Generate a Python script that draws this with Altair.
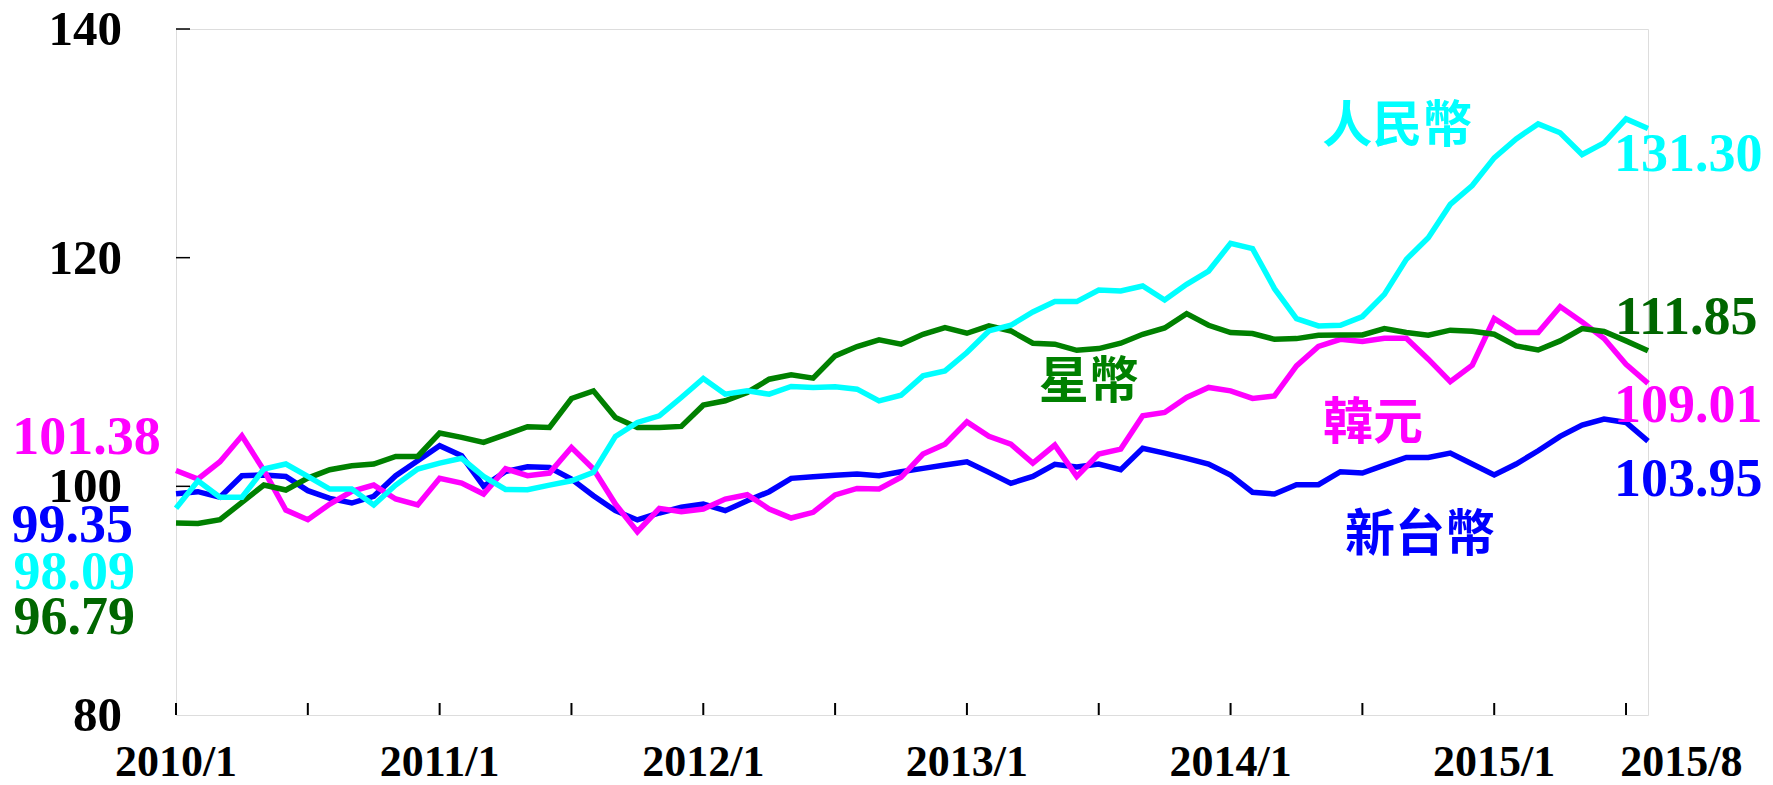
import altair as alt
import pandas as pd

# month index 0 = 2010/1 ... 67 = 2015/8
months = list(range(68))

twd = [99.35, 99.53, 99.04, 100.93, 100.99, 100.87, 99.62, 98.95, 98.54, 99.13,
       100.93, 102.24, 103.55, 102.67, 100.00, 101.30, 101.71, 101.65, 100.64, 99.18,
       97.87, 97.06, 97.67, 98.17, 98.45, 97.87, 98.74, 99.53, 100.70, 100.84,
       100.96, 101.07, 100.93, 101.28, 101.57, 101.86, 102.15, 101.22, 100.26, 100.87,
       101.92, 101.69, 101.95, 101.45, 103.32, 102.90, 102.45, 101.95, 100.99, 99.48,
       99.33, 100.14, 100.14, 101.28, 101.16, 101.86, 102.53, 102.53, 102.91, 101.95,
       100.99, 101.95, 103.11, 104.37, 105.35, 105.88, 105.59, 103.95]

cny = [98.09, 100.49, 99.04, 99.04, 101.51, 101.95, 100.87, 99.76, 99.76, 98.37,
       100.11, 101.51, 102.03, 102.45, 100.87, 99.73, 99.71, 100.11, 100.49, 101.22,
       104.37, 105.59, 106.17, 107.77, 109.43, 108.06, 108.35, 108.06, 108.73, 108.65,
       108.70, 108.50, 107.48, 107.97, 109.66, 110.10, 111.70, 113.59, 114.09, 115.25,
       116.16, 116.16, 117.17, 117.09, 117.52, 116.30, 117.67, 118.83, 121.25, 120.79,
       117.29, 114.67, 114.03, 114.09, 114.85, 116.79, 119.85, 121.75, 124.66, 126.31,
       128.73, 130.39, 131.70, 130.92, 129.02, 130.04, 132.14, 131.30]

sgd = [96.79, 96.76, 97.08, 98.60, 100.11, 99.68, 100.72, 101.45, 101.80, 101.95,
       102.62, 102.62, 104.66, 104.28, 103.84, 104.52, 105.21, 105.15, 107.68, 108.35,
       106.02, 105.15, 105.15, 105.24, 107.10, 107.48, 108.21, 109.37, 109.75, 109.46,
       111.41, 112.23, 112.81, 112.43, 113.30, 113.89, 113.39, 114.03, 113.59, 112.52,
       112.43, 111.90, 112.05, 112.52, 113.30, 113.85, 115.11, 114.09, 113.45, 113.36,
       112.86, 112.92, 113.21, 113.24, 113.24, 113.80, 113.45, 113.21, 113.66, 113.56,
       113.30, 112.28, 111.93, 112.72, 113.80, 113.54, 112.72, 111.85]

krw = [101.38, 100.64, 102.15, 104.42, 101.40, 97.93, 97.08, 98.45, 99.56, 100.11,
       98.89, 98.37, 100.70, 100.29, 99.33, 101.54, 100.93, 101.16, 103.40, 101.51,
       98.45, 96.03, 98.07, 97.78, 98.02, 98.89, 99.27, 98.02, 97.23, 97.73,
       99.25, 99.82, 99.77, 100.79, 102.82, 103.69, 105.64, 104.37, 103.69, 102.03,
       103.61, 100.87, 102.82, 103.26, 106.17, 106.46, 107.77, 108.65, 108.35, 107.69,
       107.91, 110.53, 112.23, 112.86, 112.66, 112.95, 112.95, 111.12, 109.15, 110.60,
       114.67, 113.45, 113.45, 115.72, 114.38, 112.93, 110.68, 109.01]

series_names = ["新台幣", "韓元", "星幣", "人民幣"]
series_values = [twd, krw, sgd, cny]
series_colors = ["#0000FF", "#FF00FF", "#008000", "#00FFFF"]

y_ticks = [80, 100, 120, 140]
y_tick_labels = ["80", "100", "120", "140"]
x_label_text = ["2010/1", "2011/1", "2012/1", "2013/1", "2014/1", "2015/1", "2015/8"]
x_label_pos = [0, 12, 24, 36, 48, 60, 68.52]
x_tick_months = list(range(0, 67, 6))

# annotations: text, colour, position in data units (month, value)
num_text = ["101.38", "99.35", "98.09", "96.79", "131.30", "111.85", "109.01", "103.95"]
num_color = ["#FF00FF", "#0000FF", "#00FFFF", "#006600", "#00FFFF", "#006600", "#FF00FF", "#0000FF"]
num_x = [-7.45, -7.49, -7.40, -7.40, 65.45, 65.50, 65.45, 65.45]
num_y = [102.82, 95.14, 91.03, 87.10, 127.54, 113.30, 105.62, 99.14]

cjk_text = ["人民幣", "星幣", "韓元", "新台幣"]
cjk_color = ["#00FFFF", "#008000", "#FF00FF", "#0000FF"]
cjk_x = [55.59, 41.55, 54.48, 56.62]
cjk_y = [131.42, 109.02, 105.44, 95.66]

W, H = 1472, 686
xs = alt.Scale(domain=[0, 67], nice=False, zero=False)
ys = alt.Scale(domain=[80, 140], nice=False, zero=False)

rows = []
for name, vals in zip(series_names, series_values):
    for m, v in zip(months, vals):
        rows.append({"m": m, "v": v, "s": name})
df = pd.DataFrame(rows)

x_axis = alt.Axis(labels=False, ticks=False, grid=False, domainColor="black",
                  domainWidth=3, title=None)
y_axis = alt.Axis(labels=False, ticks=False, grid=False, domainColor="#808080",
                  domainWidth=2, title=None)

layers = []
first = True
for name, col in zip(series_names, series_colors):
    ch = alt.Chart(df).transform_filter(alt.datum.s == name).mark_line(
        strokeWidth=5.5, color=col, strokeJoin="miter"
    ).encode(
        x=alt.X("m:Q", scale=xs, axis=x_axis if first else None),
        y=alt.Y("v:Q", scale=ys, axis=y_axis if first else None),
    )
    first = False
    layers.append(ch)

# inward tick marks
ytick_df = pd.DataFrame({"v": y_ticks[1:]})
ytick = alt.Chart(ytick_df).mark_rule(color="black", strokeWidth=1.5).encode(
    y=alt.Y("v:Q", scale=ys, axis=None), x=alt.value(0), x2=alt.value(14)
)
xtick_df = pd.DataFrame({"m": x_tick_months})
xtick = alt.Chart(xtick_df).mark_rule(color="black", strokeWidth=2).encode(
    x=alt.X("m:Q", scale=xs, axis=None), y=alt.value(H), y2=alt.value(H - 12)
)

# tick labels
ylab_df = pd.DataFrame({"v": y_ticks, "t": y_tick_labels})
ylab = alt.Chart(ylab_df).mark_text(
    font="Liberation Serif", fontWeight="bold", fontSize=49, align="right",
    baseline="alphabetic", dy=16, color="black"
).encode(
    y=alt.Y("v:Q", scale=ys, axis=None), x=alt.value(-54), text="t:N"
)
xlab_df = pd.DataFrame({"m": x_label_pos, "t": x_label_text})
xlab = alt.Chart(xlab_df).mark_text(
    font="Liberation Serif", fontWeight="bold", fontSize=44, align="center",
    baseline="alphabetic", color="black"
).encode(
    x=alt.X("m:Q", scale=xs, axis=None), y=alt.value(H + 61), text="t:N"
)

num_df = pd.DataFrame({"t": num_text, "c": num_color, "x": num_x, "y": num_y})
nums = alt.Chart(num_df).mark_text(
    font="Liberation Serif", fontWeight="bold", fontSize=54, align="left",
    baseline="alphabetic"
).encode(
    x=alt.X("x:Q", scale=xs, axis=None), y=alt.Y("y:Q", scale=ys, axis=None),
    text="t:N", color=alt.Color("c:N", scale=None)
)

cjk_df = pd.DataFrame({"t": cjk_text, "c": cjk_color, "x": cjk_x, "y": cjk_y})
cjk = alt.Chart(cjk_df).mark_text(
    font="Noto Sans CJK TC", fontWeight="bold", fontSize=50, align="center",
    baseline="middle"
).encode(
    x=alt.X("x:Q", scale=xs, axis=None), y=alt.Y("y:Q", scale=ys, axis=None),
    text="t:N", color=alt.Color("c:N", scale=None)
)

chart = alt.layer(*layers, ytick, xtick, ylab, xlab, nums, cjk).properties(
    width=W, height=H,
    autosize=alt.AutoSizeParams(type="none"),
    padding={"left": 168, "top": 21, "right": 117, "bottom": 62},
).configure_view(stroke=None).configure(background="white")

chart.save("out.html", embed_options={"renderer": "svg", "actions": False})
